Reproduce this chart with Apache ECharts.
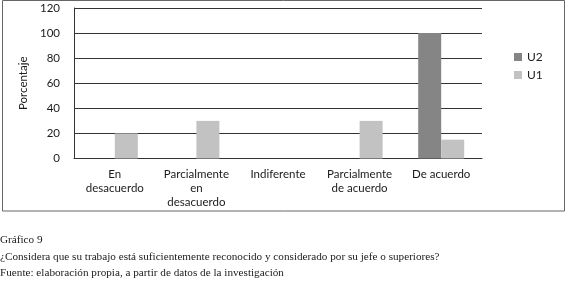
<!DOCTYPE html>
<html>
<head>
<meta charset="utf-8">
<style>
  html, body { margin: 0; padding: 0; background: #fff; }
  #chart { width: 580px; height: 298px; }
</style>
<script src="https://cdn.jsdelivr.net/npm/echarts@6/dist/echarts.min.js"></script>
</head>
<body>
<div id="chart"></div>
<script>
const categories = ['En\ndesacuerdo', 'Parcialmente\nen\ndesacuerdo', 'Indiferente', 'Parcialmente\nde acuerdo', 'De acuerdo'];
const u2Values = [0, 0, 0, 0, 100];
const u1Values = [20, 30, 0, 30, 15];
const yTicks = { min: 0, max: 120, interval: 20 };
const captionLines = [
  'Gráfico 9',
  '¿Considera que su trabajo está suficientemente reconocido y considerado por su jefe o superiores?',
  'Fuente: elaboración propia, a partir de datos de la investigación'
];

const sans = 'Lato';
const serif = 'Liberation Serif';

const chart = echarts.init(document.getElementById('chart'));

chart.setOption({
  animation: false,
  textStyle: { fontFamily: sans },
  grid: {
    left: 74,
    right: 98,
    top: 8,
    height: 150.5
  },
  legend: {
    orient: 'vertical',
    left: 509,
    top: 46,
    itemWidth: 8,
    itemHeight: 8,
    itemGap: 6,
    itemTextGap: 6,
    icon: 'rect',
    data: ['U2', 'U1'],
    textStyle: { fontSize: 12, color: '#222', fontFamily: sans }
  },
  xAxis: {
    type: 'category',
    data: categories,
    axisTick: { show: false },
    axisLine: { lineStyle: { color: '#333', width: 1 } },
    axisLabel: {
      interval: 0,
      margin: 9,
      fontSize: 11.5,
      lineHeight: 14,
      color: '#1a1a1a'
    }
  },
  yAxis: {
    type: 'value',
    min: yTicks.min,
    max: yTicks.max,
    interval: yTicks.interval,
    name: 'Porcentaje',
    nameLocation: 'middle',
    nameRotate: 90,
    nameGap: 43,
    nameTextStyle: { fontSize: 11.5, color: '#1a1a1a' },
    axisLine: { show: true, lineStyle: { color: '#333', width: 1 } },
    axisTick: { show: false },
    axisLabel: { fontSize: 11.5, color: '#1a1a1a', margin: 14 },
    splitLine: { lineStyle: { color: '#333', width: 1 } }
  },
  series: [
    {
      name: 'U2',
      type: 'bar',
      data: u2Values,
      barWidth: 23,
      barGap: 0,
      itemStyle: { color: '#858585' }
    },
    {
      name: 'U1',
      type: 'bar',
      data: u1Values,
      barWidth: 23,
      barGap: 0,
      itemStyle: { color: '#c2c2c2' }
    }
  ],
  graphic: [
    {
      type: 'rect',
      shape: { x: 2.5, y: 0.5, width: 562, height: 210.5 },
      style: { fill: null, stroke: '#666', lineWidth: 1 },
      silent: true
    }
  ].concat(captionLines.map((line, i) => ({
    type: 'text',
    left: 0,
    top: 235 + i * 16.3,
    style: {
      text: line,
      fontFamily: serif,
      fontSize: 11.2,
      fill: '#1a1a1a'
    }
  })))
});
</script>
</body>
</html>
